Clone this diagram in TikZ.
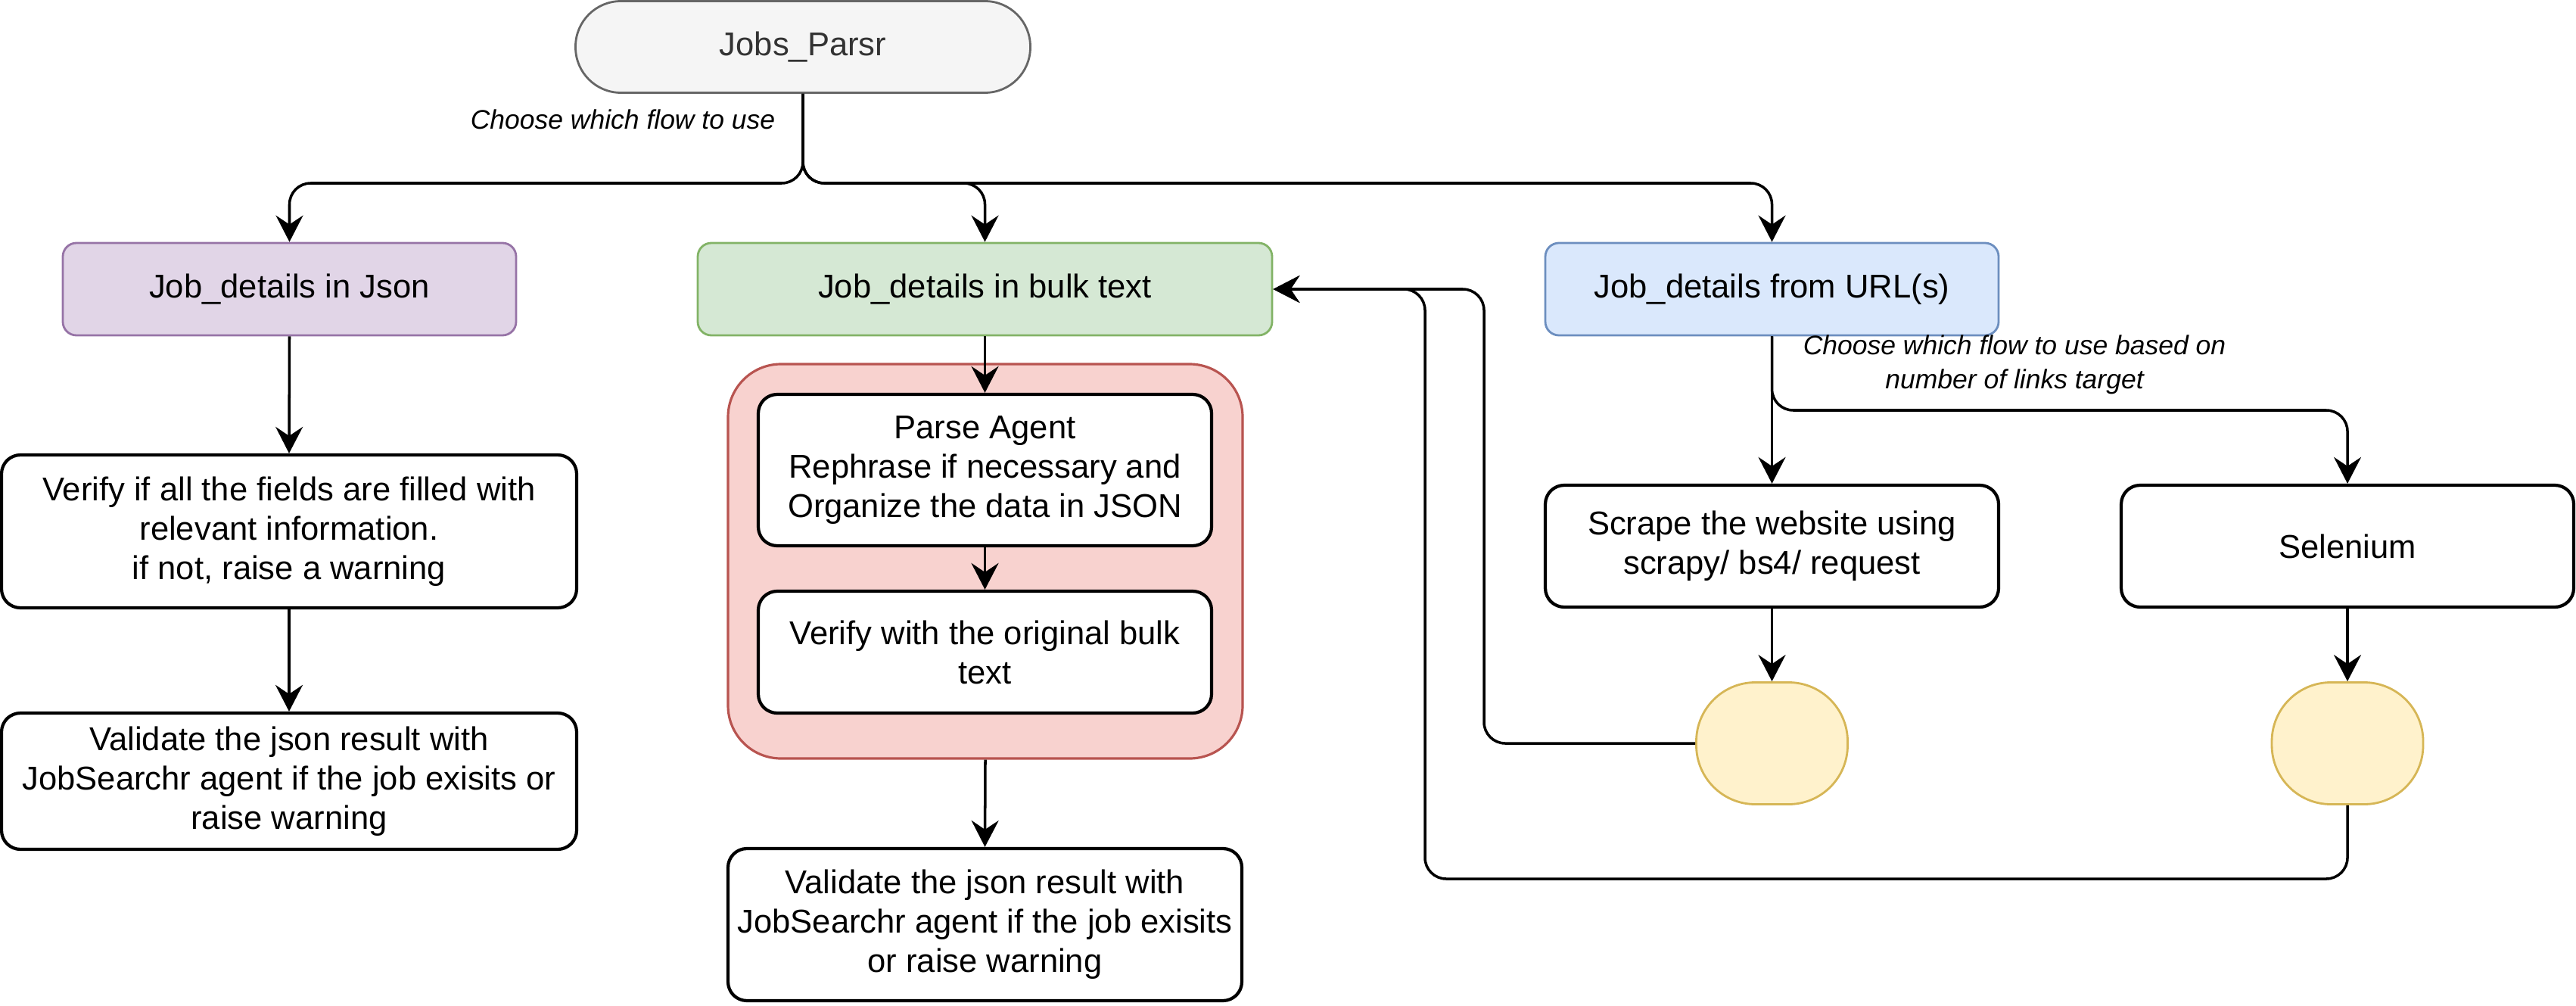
\documentclass[tikz,border=0pt]{standalone}
\usepackage{fontspec}
\setmainfont{Liberation Sans}
\usetikzlibrary{arrows.meta}
\definecolor{pfill}{HTML}{E1D5E7}\definecolor{pdraw}{HTML}{9673A6}
\definecolor{gfill}{HTML}{D5E8D4}\definecolor{gdraw}{HTML}{82B366}
\definecolor{bfill}{HTML}{DAE8FC}\definecolor{bdraw}{HTML}{6C8EBF}
\definecolor{rfill}{HTML}{F8D2CF}\definecolor{rdraw}{HTML}{B85450}
\definecolor{yfill}{HTML}{FFF2CC}\definecolor{ydraw}{HTML}{D6B656}
\definecolor{tfill}{HTML}{F5F5F5}\definecolor{tdraw}{HTML}{666666}
\definecolor{ttext}{HTML}{333333}
\tikzset{
  boxfont/.style={font=\fontsize{12.4}{14.8}\selectfont},
  blackbox/.style={draw=black, line width=1.2pt, fill=white, rounded corners=0.25cm, align=center, boxfont, inner sep=0pt},
  colbox/.style={line width=0.8pt, rounded corners=0.18cm, align=center, boxfont, inner sep=0pt},
  conn/.style={line width=1pt, rounded corners=0.28cm, -{Stealth[length=0.35cm, width=0.36cm, inset=0.12cm]}},
  lbl/.style={font=\fontsize{10.1}{12.8}\selectfont\itshape, align=center, inner sep=0pt}
}
\begin{document}
\begin{tikzpicture}
\useasboundingbox (0,0) rectangle (34.04,-13.28);

% top terminator
\node[colbox, draw=tdraw, fill=tfill, text=ttext, rounded corners=0.6cm, minimum width=6.01cm, minimum height=1.21cm] (parsr) at (10.61,-0.62) {Jobs\_Parsr};

% level 2
\node[colbox, draw=pdraw, fill=pfill, minimum width=5.99cm, minimum height=1.22cm] (json) at (3.825,-3.82) {Job\_details in Json};
\node[colbox, draw=gdraw, fill=gfill, minimum width=7.59cm, minimum height=1.22cm] (bulk) at (13.015,-3.82) {Job\_details in bulk text};
\node[colbox, draw=bdraw, fill=bfill, minimum width=5.99cm, minimum height=1.22cm] (url) at (23.415,-3.82) {Job\_details from URL(s)};

% left column
\node[blackbox, minimum width=7.60cm, minimum height=2.02cm] (verify1) at (3.82,-7.02) {Verify if all the fields are filled with\\relevant information.\\if not, raise a warning};
\node[blackbox, minimum width=7.60cm, minimum height=1.80cm] (validate1) at (3.82,-10.32) {Validate the json result with\\JobSearchr agent if the job exisits or\\raise warning};

% middle column
\node[draw=rdraw, fill=rfill, line width=0.9pt, rounded corners=0.7cm, minimum width=6.80cm, minimum height=5.21cm, inner sep=0pt] (cont) at (13.02,-7.415) {};
\node[blackbox, minimum width=5.99cm, minimum height=2.00cm] (parse) at (13.015,-6.21) {Parse Agent\\Rephrase if necessary and\\Organize the data in JSON};
\node[blackbox, minimum width=5.99cm, minimum height=1.61cm] (verify2) at (13.015,-8.615) {Verify with the original bulk\\text};
\node[blackbox, minimum width=6.79cm, minimum height=2.01cm] (validate2) at (13.015,-12.215) {Validate the json result with\\JobSearchr agent if the job exisits\\or raise warning};

% right column
\node[blackbox, minimum width=5.99cm, minimum height=1.61cm] (scrape) at (23.415,-7.215) {Scrape the website using\\scrapy/ bs4/ request};
\node[blackbox, minimum width=5.98cm, minimum height=1.61cm] (selenium) at (31.02,-7.215) {Selenium};
\node[draw=ydraw, fill=yfill, line width=0.8pt, rounded corners=0.78cm, minimum width=2.0cm, minimum height=1.61cm, inner sep=0pt] (ell1) at (23.415,-9.82) {};
\node[draw=ydraw, fill=yfill, line width=0.8pt, rounded corners=0.78cm, minimum width=2.0cm, minimum height=1.61cm, inner sep=0pt] (ell2) at (31.02,-9.82) {};

% labels
\node[lbl] (lab1) at (8.23,-1.58) {Choose which flow to use};
\node[lbl] (lab2) at (26.62,-4.82) {Choose which flow to use based on\\number of links target};

% top branching
\coordinate (br) at (10.61,-2.42);
\draw[conn] (parsr.south) -- (br) -| (json.north);
\draw[conn] (parsr.south) -- (br) -| (bulk.north);
\draw[conn] (parsr.south) -- (br) -| (url.north);

% left column arrows
\draw[conn] (json.south) -- (verify1.north);
\draw[conn] (verify1.south) -- (validate1.north);

% middle column arrows
\draw[conn] (bulk.south) -- (parse.north);
\draw[conn] (parse.south) -- (verify2.north);
\draw[conn] (cont.south) -- (validate2.north);

% right column arrows
\coordinate (ubr) at (23.415,-5.42);
\draw[conn] (url.south) -- (scrape.north);
\draw[conn] (url.south) -- (ubr) -| (selenium.north);
\draw[conn] (scrape.south) -- (ell1.north);
\draw[conn] (selenium.south) -- (ell2.north);

% return paths
\coordinate (r1) at (19.61,-3.82);
\coordinate (r2a) at (18.83,-11.61);
\coordinate (r2b) at (18.83,-3.82);
\draw[conn] (ell1.west) -| (r1) -- (bulk.east);
\draw[conn] (ell2.south) |- (r2a) -- (r2b) -- (bulk.east);
\end{tikzpicture}
\end{document}
